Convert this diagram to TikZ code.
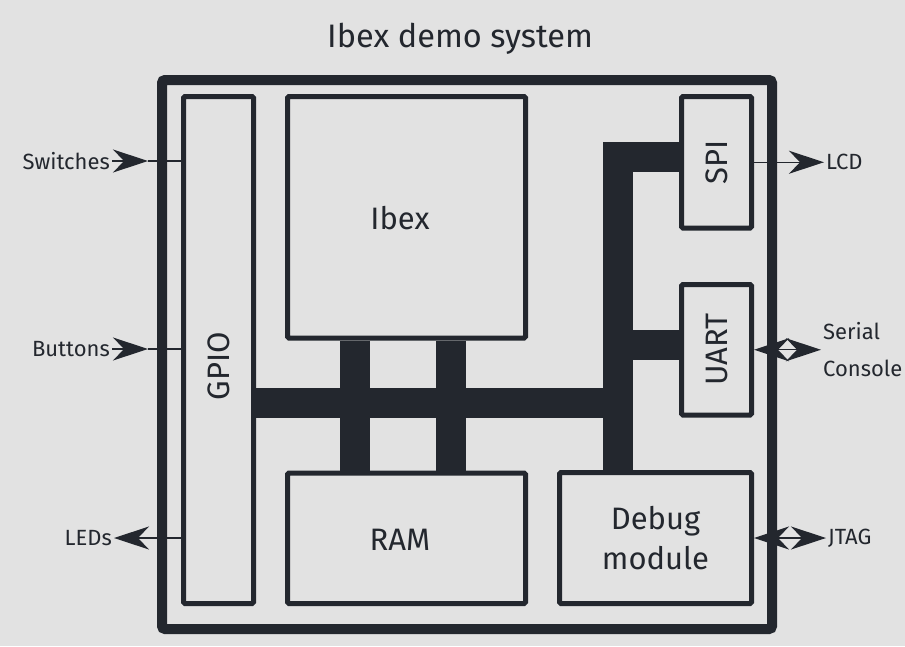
\documentclass[tikz,border=0pt]{standalone}
\usepackage{fontspec}
\setmainfont{Fira Sans}
\usetikzlibrary{arrows.meta}
\definecolor{ink}{HTML}{23272E}
\definecolor{paper}{HTML}{E2E2E2}
\tikzset{
	blk/.style={draw=ink, line width=5pt, rounded corners=1.5pt, inner sep=0pt},
	blktext/.style={text=ink, align=center, font=\fontsize{31}{40}\selectfont},
	bus/.style={draw=ink, line width=30pt},
	sig/.style={draw=ink, line width=1.3pt},
	lbl/.style={text=ink, inner sep=2pt, font=\fontsize{22}{37}\selectfont},
}
\begin{document}
\begin{tikzpicture}[x=1pt,y=-1pt,>={Stealth[length=35pt,width=23pt,inset=11pt]}]
	\fill[paper] (0,0) rectangle (905,646);
	\useasboundingbox (0,0) rectangle (905,646);
	\node[text=ink, font=\fontsize{32.5}{38}\selectfont] (title) at (460,39) {Ibex demo system};
	\draw[ink, line width=10pt, rounded corners=3pt] (162,80) rectangle (772,629);
	% blocks
	\node[blk, minimum width=70pt, minimum height=507pt] (gpio) at (218.5,350) {};
	\node[blk, minimum width=238pt, minimum height=241.5pt] (ibex) at (406.5,217.25) {};
	\node[blk, minimum width=238pt, minimum height=130.5pt] (ram) at (406.5,538.25) {};
	\node[blk, minimum width=70pt, minimum height=131.5pt] (spi) at (716.5,162.25) {};
	\node[blk, minimum width=70pt, minimum height=130.5pt] (uart) at (716.5,349.75) {};
	\node[blk, minimum width=192pt, minimum height=131pt] (dbg) at (655.5,538) {};
	\path
	(218.5,366) node[blktext, rotate=90] (gpiolbl) {GPIO}
	(400,218) node[blktext] (ibexlbl) {Ibex}
	(400,540) node[blktext] (ramlbl) {RAM}
	(spi) node[blktext, rotate=90] (spilbl) {SPI}
	(uart) node[blktext, rotate=90] (uartlbl) {UART}
	(dbg) node[blktext] (dbglbl) {Debug\\module}
	;
	% bus
	\draw[bus] (gpio.east |- 0,403) -- (633,403);
	\draw[bus] (355,0 |- ibex.south) -- (355,0 |- ram.north);
	\draw[bus] (451,0 |- ibex.south) -- (451,0 |- ram.north);
	\draw[bus, line join=miter] (spi.west |- 0,157) -- (618,157) -- (618,0 |- dbg.north);
	\draw[bus] (618,345) -- (uart.west |- 0,345);
	% pins
	\node[lbl, anchor=east] (sw) at (112,161) {Switches};
	\node[lbl, anchor=east] (btn) at (112,349) {Buttons};
	\node[lbl, anchor=east] (leds) at (114,538) {LEDs};
	\node[lbl, anchor=west] (lcd) at (824,162.25) {LCD};
	\node[lbl, anchor=west, align=left] (ser) at (821,349.75) {Serial\\Console};
	\node[lbl, anchor=west] (jtag) at (826,538) {JTAG};
	\coordinate (swtip) at (148,161);
	\coordinate (btntip) at (148,349);
	\draw[sig,->] (sw.east) -- (swtip);
	\draw[sig] (swtip) -- (gpio.west |- swtip);
	\draw[sig,->] (btn.east) -- (btntip);
	\draw[sig] (btntip) -- (gpio.west |- btntip);
	\draw[sig,->] (gpio.west |- leds) -- (leds.east);
	\draw[sig,->] (spi.east) -- (lcd.west);
	\draw[sig,<->] (uart.east) -- (ser.west);
	\draw[sig,<->] (dbg.east) -- (jtag.west);
\end{tikzpicture}
\end{document}
